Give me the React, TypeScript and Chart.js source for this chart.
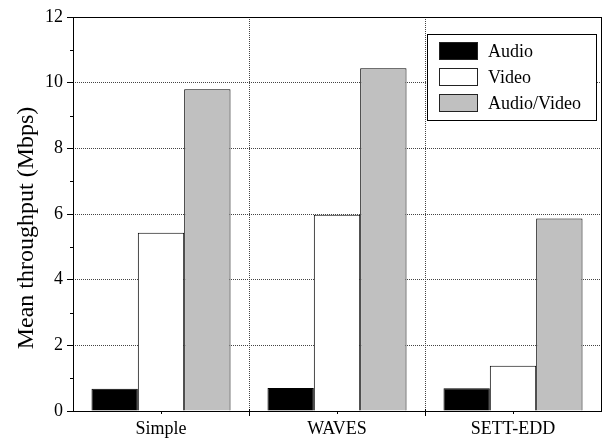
import React, { useEffect, useRef } from "react";
import { Chart, registerables } from "chart.js";

Chart.register(...registerables);

const categories = ["Simple", "WAVES", "SETT-EDD"];
const seriesNames = ["Audio", "Video", "Audio/Video"];
const audioValues = [0.68, 0.7, 0.69];
const videoValues = [5.43, 5.98, 1.38];
const audioVideoValues = [9.8, 10.44, 5.86];
const seriesColors = ["#000000", "#ffffff", "#c0c0c0"];
const yMin = 0;
const yMax = 12;
const yStep = 2;
const yTitle = "Mean throughput (Mbps)";

const FONT = '"Liberation Serif", "Times New Roman", serif';

const framePlugin = {
  id: "framePlugin",
  afterDatasetsDraw(chart: any) {
    const { ctx, chartArea, scales } = chart;
    const { left, right, top, bottom } = chartArea;
    const y = scales.y;
    const x = scales.x;
    ctx.save();
    ctx.strokeStyle = "#000";
    ctx.lineWidth = 1;
    ctx.setLineDash([]);
    ctx.strokeRect(left + 0.5, top + 0.5, right - left, bottom - top);
    ctx.beginPath();
    for (let v = yMin + yStep / 2; v < yMax; v += yStep) {
      const py = Math.round(y.getPixelForValue(v)) + 0.5;
      ctx.moveTo(left - 3, py);
      ctx.lineTo(left, py);
    }
    for (let i = 0; i < categories.length; i++) {
      const c = Math.round(x.getPixelForValue(i)) + 0.5;
      ctx.moveTo(c, bottom);
      ctx.lineTo(c, bottom + 3);
      if (i > 0) {
        const b = Math.round((x.getPixelForValue(i) + x.getPixelForValue(i - 1)) / 2) + 0.5;
        ctx.moveTo(b, bottom - 2);
        ctx.lineTo(b, bottom + 5);
      }
    }
    ctx.stroke();
    ctx.restore();
  },
  afterDraw(chart: any) {
    const { ctx } = chart;
    const bx = 427, by = 34, bw = 169, bh = 86;
    ctx.save();
    ctx.fillStyle = "#fff";
    ctx.fillRect(bx, by, bw, bh);
    ctx.strokeStyle = "#000";
    ctx.lineWidth = 1;
    ctx.setLineDash([]);
    ctx.strokeRect(bx + 0.5, by + 0.5, bw, bh);
    ctx.font = `18px ${FONT}`;
    ctx.textBaseline = "middle";
    ctx.textAlign = "left";
    chart.data.datasets.forEach((ds: any, i: number) => {
      const cy = 51 + i * 26;
      ctx.fillStyle = ds.backgroundColor;
      ctx.fillRect(439, cy - 9, 39, 18);
      ctx.strokeStyle = "#222";
      ctx.strokeRect(439.5, cy - 8.5, 38, 17);
      ctx.fillStyle = "#000";
      ctx.fillText(ds.label, 488, cy + 1);
    });
    // y-axis title
    ctx.translate(27, 228);
    ctx.rotate(-Math.PI / 2);
    ctx.font = `24px ${FONT}`;
    ctx.textAlign = "center";
    ctx.textBaseline = "middle";
    ctx.fillStyle = "#000";
    ctx.fillText(yTitle, 0, 0);
    ctx.restore();
  },
};

export default function App() {
  const ref = useRef<HTMLCanvasElement>(null);
  useEffect(() => {
    if (!ref.current) return;
    const valueLists = [audioValues, videoValues, audioVideoValues];
    const chart = new Chart(ref.current, {
      type: "bar",
      data: {
        labels: categories,
        datasets: seriesNames.map((name, i) => ({
          label: name,
          data: valueLists[i],
          backgroundColor: seriesColors[i],
          borderColor: "#000",
          borderWidth: 1,
          categoryPercentage: 0.79,
          barPercentage: 1.0,
        })),
      },
      options: {
        animation: false,
        responsive: true,
        maintainAspectRatio: false,
        layout: { padding: { left: 0, top: 17, right: 8, bottom: 0 } },
        plugins: { legend: { display: false }, tooltip: { enabled: false } },
        scales: {
          x: {
            afterFit(scale: any) {
              scale.height = 27;
            },
            grid: {
              offset: true,
              color: "#444",
              drawTicks: false,
              lineWidth: 1,
            },
            border: { display: false, dash: [1, 1] },
            ticks: {
              color: "#000",
              font: { family: FONT, size: 18 },
              padding: 7,
            },
          },
          y: {
            min: yMin,
            max: yMax,
            afterFit(scale: any) {
              scale.width = 73;
            },
            grid: {
              color: "#444",
              tickColor: "#000",
              tickBorderDash: [],
              tickLength: 6,
              lineWidth: 1,
            },
            border: { display: false, dash: [1, 1] },
            ticks: {
              stepSize: yStep,
              color: "#000",
              font: { family: FONT, size: 18 },
              padding: 4,
            },
            title: { display: false },
          },
        },
      },
      plugins: [framePlugin],
    });
    return () => chart.destroy();
  }, []);
  return (
    <div style={{ position: "absolute", left: 0, top: 0, width: 609, height: 438, background: "#fff" }}>
      <canvas ref={ref} />
    </div>
  );
}
